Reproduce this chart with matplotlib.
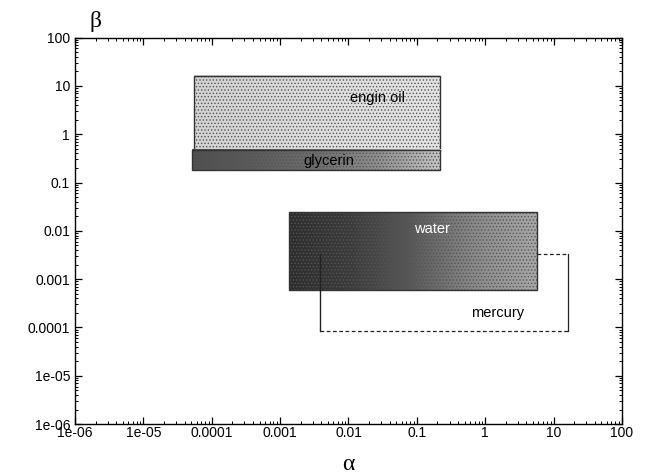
import numpy as np
import matplotlib
matplotlib.use("Agg")
import matplotlib.pyplot as plt
from matplotlib.patches import Rectangle
from matplotlib.colors import LinearSegmentedColormap

plt.rcParams['font.family'] = ['Liberation Sans', 'DejaVu Sans']
plt.rcParams['hatch.linewidth'] = 0.6

# parameter ranges (alpha_min, alpha_max, beta_min, beta_max) for each fluid
fluids = ['engin oil', 'glycerin', 'water', 'mercury']
alpha_lo = [5.5e-5, 5.1e-5, 1.33e-3, 3.8e-3]
alpha_hi = [0.22, 0.22, 5.8, 16.0]
beta_lo = [0.44, 0.18, 6.0e-4, 8.5e-5]
beta_hi = [16.0, 0.47, 0.024, 3.3e-3]

# where the names go
label_x = [0.027, 0.0052, 0.165, 1.5]
label_y = [5.6, 0.28, 0.011, 2.0e-4]

xticks = [1e-6, 1e-5, 1e-4, 1e-3, 1e-2, 0.1, 1, 10, 100]
xtick_labels = ['1e-06', '1e-05', '0.0001', '0.001', '0.01', '0.1', '1', '10', '100']
yticks = [1e-6, 1e-5, 1e-4, 1e-3, 1e-2, 0.1, 1, 10, 100]
ytick_labels = ['1e-06', '1e-05', '0.0001', '0.001', '0.01', '0.1', '1', '10', '100']

fig = plt.figure(figsize=(6.48, 4.76), dpi=100)
ax = fig.add_axes([0.1157, 0.109, 0.8442, 0.812])
ax.set_xscale('log')
ax.set_yscale('log')
ax.set_xlim(1e-6, 100)
ax.set_ylim(1e-6, 100)

data_to_axes = ax.transScale + ax.transLimits


def shaded_box(i, stops, z):
    # grey ramp across the box (even in log space), then a stipple on top
    (x0, y0) = data_to_axes.transform((alpha_lo[i], beta_lo[i]))
    (x1, y1) = data_to_axes.transform((alpha_hi[i], beta_hi[i]))
    ramp = np.linspace(0, 1, 128).reshape(1, -1)
    cmap = LinearSegmentedColormap.from_list('r', stops)
    ax.imshow(ramp, cmap=cmap, aspect='auto', interpolation='bilinear',
              extent=[x0, x1, y0, y1], transform=ax.transAxes, zorder=z)
    w = alpha_hi[i] - alpha_lo[i]
    h = beta_hi[i] - beta_lo[i]
    ax.add_patch(Rectangle((alpha_lo[i], beta_lo[i]), w, h, facecolor='none',
                           edgecolor='#555555', hatch='.....', lw=0.0, zorder=z + 0.1))
    ax.add_patch(Rectangle((alpha_lo[i], beta_lo[i]), w, h, facecolor='none',
                           edgecolor='#333333', lw=1.0, zorder=z + 0.2))


shaded_box(0, ['#d2d2d2', '#dedede', '#e4e4e4'], 2)
shaded_box(1, ['#4e4e4e', '#5c5c5c', '#6e6e6e', '#8e8e8e', '#c4c4c4'], 3)
shaded_box(2, ['#2e2e2e', '#3c3c3c', '#5a5a5a', '#8a8a8a', '#a8a8a8'], 2)

# mercury is only outlined: solid left/right, dashed top/bottom
ax.plot([alpha_lo[3], alpha_lo[3]], [beta_lo[3], beta_hi[3]], color='#222222', lw=1.0, zorder=4)
ax.plot([alpha_hi[3], alpha_hi[3]], [beta_lo[3], beta_hi[3]], color='#222222', lw=0.9, zorder=4)
ax.plot([alpha_hi[2], alpha_hi[3]], [beta_hi[3], beta_hi[3]], color='#222222', lw=0.9,
        ls=(0, (3, 2)), zorder=4)
ax.plot([alpha_lo[3], alpha_hi[3]], [beta_lo[3], beta_lo[3]], color='#222222', lw=0.9,
        ls=(0, (3, 2)), zorder=4)

ax.text(label_x[0], label_y[0], fluids[0], fontsize=10.5, ha='center', va='center', zorder=6)
ax.text(label_x[1], label_y[1], fluids[1], fontsize=10.5, ha='center', va='center', zorder=6)
ax.text(label_x[2], label_y[2], fluids[2], fontsize=10.5, ha='center', va='center', color='white',
        zorder=6)
ax.text(label_x[3], label_y[3], fluids[3], fontsize=10.5, ha='center', va='center', zorder=6)

ax.set_xticks(xticks)
ax.set_xticklabels(xtick_labels)
ax.set_yticks(yticks)
ax.set_yticklabels(ytick_labels)
ax.tick_params(which='both', direction='in', top=True, right=True, labelsize=10)
ax.tick_params(which='major', length=5, width=0.9)
ax.tick_params(which='minor', length=2.5, width=0.7)
ax.tick_params(axis='x', pad=1)
for s in ax.spines.values():
    s.set_linewidth(1.0)

fig.text(0.148, 0.955, 'β', fontsize=17, family=['Liberation Serif', 'DejaVu Serif'],
         ha='center', va='center')
fig.text(0.538, 0.025, 'α', fontsize=17, family=['Liberation Serif', 'DejaVu Serif'],
         ha='center', va='center')

fig.savefig('out.png', dpi=100)
